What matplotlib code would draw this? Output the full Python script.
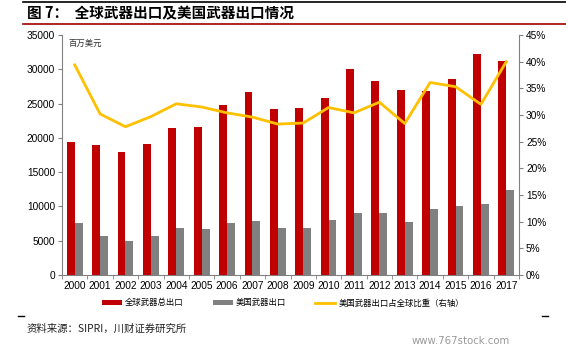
import matplotlib.pyplot as plt
import numpy as np

plt.rcParams['font.family'] = ['Liberation Sans', 'Noto Sans CJK SC']

years = [str(y) for y in range(2000, 2018)]
# global arms exports (million USD)
world_exports = [19400, 18900, 17940, 19100, 21440, 21630, 24840, 26690, 24160,
                 24300, 25770, 29990, 28340, 27030, 26830, 28540, 32270, 31160]
# US arms exports (million USD)
us_exports = [7630, 5690, 4960, 5640, 6800, 6760, 7530, 7820, 6800,
              6900, 8020, 9080, 9080, 7680, 9620, 10060, 10300, 12400]
# US share of global exports (%), right axis
us_share = [39.4, 30.2, 27.8, 29.7, 32.1, 31.5, 30.4, 29.6, 28.3,
            28.5, 31.4, 30.4, 32.4, 28.4, 36.1, 35.3, 32.0, 40.0]

RED = '#C00000'
GRAY = '#808080'
GOLD = '#FFC000'
AX = '#808080'
CJK = ['Noto Sans CJK SC', 'Liberation Sans']

fig = plt.figure(figsize=(5.66, 3.51), dpi=100)
W, H = 566, 351
ax = fig.add_axes([62 / W, 1 - 275 / H, (519 - 62) / W, (275 - 35) / H])

x = np.arange(len(years))
bw = 0.31
ax.bar(x - bw / 2, world_exports, width=bw, color=RED, label='全球武器总出口', zorder=2)
ax.bar(x + bw / 2, us_exports, width=bw, color=GRAY, label='美国武器出口', zorder=2)

ax.set_xlim(-0.5, len(years) - 0.5)
ax.set_ylim(0, 35000)
ax.set_yticks(range(0, 35001, 5000))
ax.set_xticks(x)
ax.set_xticklabels(years)
ax.set_xticks(np.arange(-0.5, len(years), 1), minor=True)
ax.tick_params(axis='x', which='major', length=0, labelsize=7.3, pad=4)
ax.tick_params(axis='x', which='minor', length=3, color=AX, direction='out')
ax.tick_params(axis='y', length=3, color=AX, labelsize=7.3, pad=2)

ax2 = ax.twinx()
ax2.plot(x, us_share, color=GOLD, lw=2, label='美国武器出口占全球比重（右轴）', zorder=3)
ax2.set_ylim(0, 45)
ax2.set_yticks(range(0, 46, 5))
ax2.set_yticklabels([f'{v}%' for v in range(0, 46, 5)])
ax2.tick_params(axis='y', length=3, color=AX, labelsize=7.3, pad=2)

for a in (ax, ax2):
    a.spines['top'].set_visible(False)
    for s in ('left', 'right', 'bottom'):
        a.spines[s].set_color(AX)
        a.spines[s].set_linewidth(0.8)
ax.spines['right'].set_visible(False)
ax2.spines['left'].set_visible(False)
ax2.spines['bottom'].set_visible(False)

ax.text(0.015, 0.985, '百万美元', transform=ax.transAxes, fontsize=6,
        style='italic', color='#333333', va='top', ha='left', family=CJK)

h1, l1 = ax.get_legend_handles_labels()
h2, l2 = ax2.get_legend_handles_labels()
fig.legend(h1 + h2, l1 + l2, loc='center', bbox_to_anchor=(0.5, 1 - 303 / H),
           ncol=3, frameon=False, prop={'family': CJK, 'size': 6},
           handlelength=2.4, handleheight=0.5,
           columnspacing=3.5, handletextpad=0.4)

# title with rules
fig.add_artist(plt.Line2D([23 / W, 1], [1 - 2 / H, 1 - 2 / H], color='black', lw=1.2))
fig.add_artist(plt.Line2D([23 / W, 1], [1 - 23.5 / H, 1 - 23.5 / H], color='#A00000', lw=1.2))
fig.text(27 / W, 1 - 13 / H, '图 7：  全球武器出口及美国武器出口情况', fontsize=10.5,
         fontweight='bold', va='center', ha='left', color='black', family=CJK)

# short marks at the bottom rule
fig.add_artist(plt.Line2D([18 / W, 24 / W], [1 - 316 / H] * 2, color='black', lw=1))
fig.add_artist(plt.Line2D([542 / W, 548 / W], [1 - 316 / H] * 2, color='black', lw=1))

fig.text(27 / W, 1 - 329 / H, '资料来源：SIPRI，川财证券研究所', fontsize=7.5,
         style='italic', va='center', ha='left', color='#222222', family=CJK)
fig.text(510 / W, 1 - 341 / H, 'www.767stock.com', fontsize=7.3,
         va='center', ha='right', color='#999999', family=['DejaVu Sans'])

fig.savefig('out.png', dpi=100)
